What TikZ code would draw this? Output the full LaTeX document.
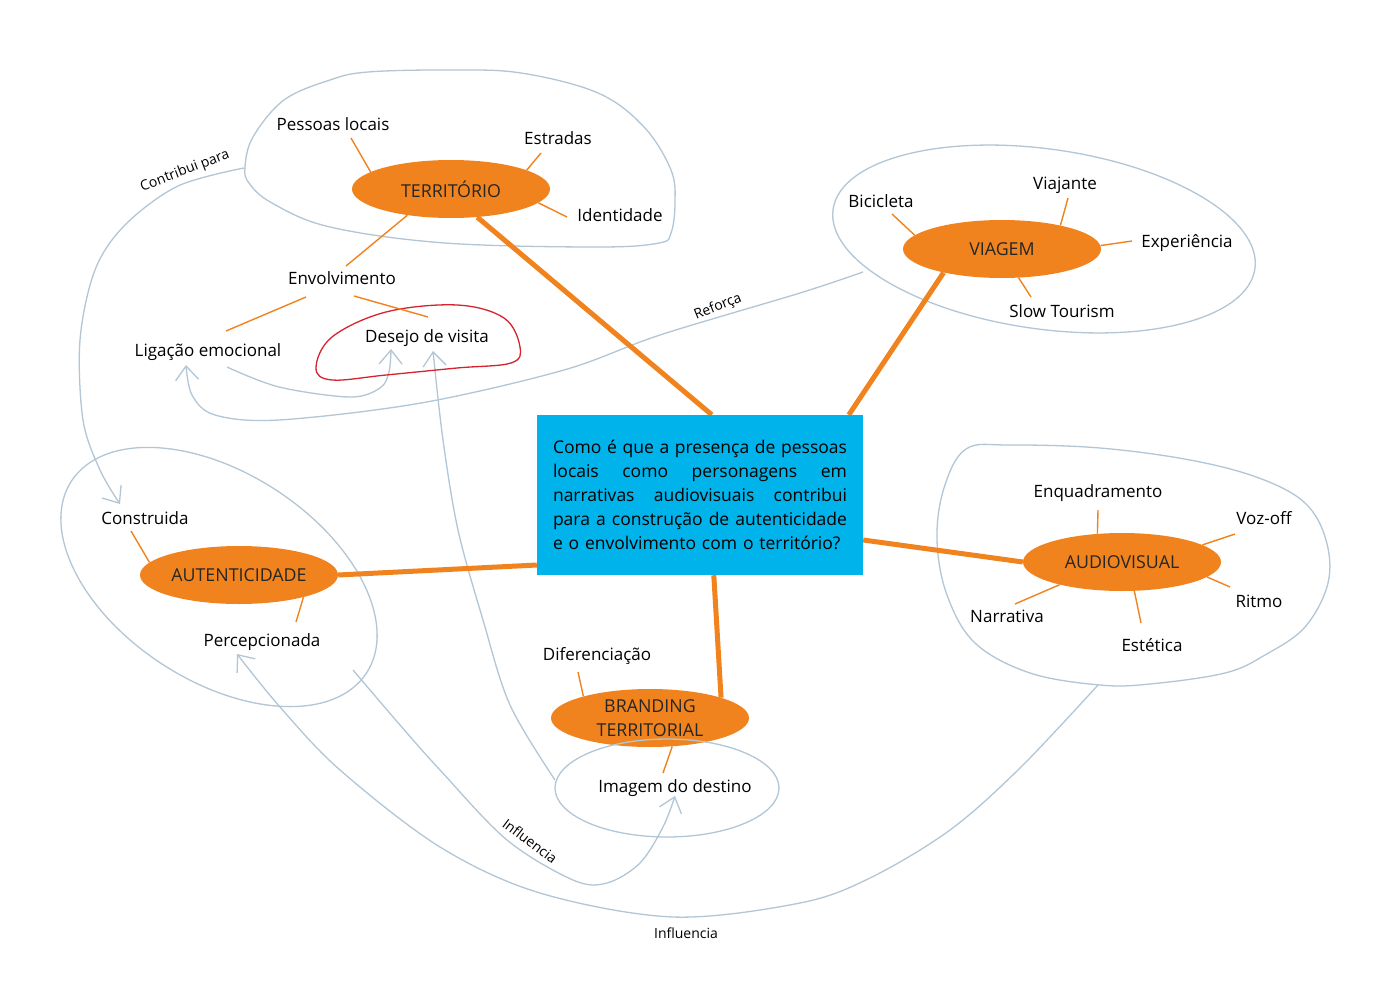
\documentclass[tikz,border=0pt]{standalone}
\usepackage{fontspec}
\setmainfont{Open Sans}
\usetikzlibrary{shapes.geometric,arrows.meta,backgrounds}
\definecolor{org}{RGB}{240,131,30}
\definecolor{bluegray}{RGB}{178,198,214}
\definecolor{cyanbox}{RGB}{0,179,234}
\definecolor{redline}{RGB}{214,35,45}
\newcommand{\jline}[1]{\makebox[294pt][s]{\spaceskip=.25em plus 1fil\relax #1}}
\begin{document}
\begin{tikzpicture}[x=1pt,y=-1pt,
  lbl/.style={font=\fontsize{17}{20}\selectfont, inner sep=1pt, text height=12pt, text depth=0pt},
  hub/.style={ellipse, fill=org, minimum width=198pt, minimum height=58pt, inner sep=0pt},
  hubtext/.style={font=\fontsize{17.8}{24}\selectfont, align=center, text=black!85},
  spoke/.style={draw=org, line width=1.4pt},
  trunk/.style={draw=org, line width=5pt},
  link/.style={draw=bluegray, line width=1.3pt},
  arr/.style={-{Straight Barb[length=14pt,width=23pt]}},
  small/.style={font=\fontsize{14}{16}\selectfont, inner sep=1pt},
]
\useasboundingbox (0,0) rectangle (1400,990);

% central question
\node[fill=cyanbox, minimum width=326pt, minimum height=160pt, text width=294pt, inner xsep=16pt, inner ysep=0pt, align=left, font=\fontsize{17.5}{24}\selectfont] (box) at (700,495)
 {\jline{Como é que a presença de pessoas}\\
  \jline{locais como personagens em}\\
  \jline{narrativas audiovisuais contribui}\\
  \jline{para a construção de autenticidade}\\
  e o envolvimento com o território?};

% hubs
\node[hub, label={[hubtext]center:TERRITÓRIO}] (terr) at (451,189) {};
\node[hub, label={[hubtext]center:VIAGEM}] (viag) at (1002,249) {};
\node[hub, label={[hubtext]center:AUTENTICIDADE}] (aut) at (239,575) {};
\node[hub, label={[hubtext]center:AUDIOVISUAL}] (av) at (1122,562) {};
\node[hub, label={[hubtext]center:BRANDING\\TERRITORIAL}] (br) at (650,718) {};

% labels
\node[lbl] (pl) at (333,124) {Pessoas locais};
\node[lbl] (es) at (558,138) {Estradas};
\node[lbl] (id) at (620,215) {Identidade};
\node[lbl] (env) at (342,278) {Envolvimento};
\node[lbl] (lig) at (208,350) {Ligação emocional};
\node[lbl] (des) at (427,336) {Desejo de visita};
\node[lbl] (bic) at (881,201) {Bicicleta};
\node[lbl] (via) at (1065,183) {Viajante};
\node[lbl] (exp) at (1187,241) {Experiência};
\node[lbl] (slow) at (1062,311) {Slow Tourism};
\node[lbl] (cons) at (145,518) {Construida};
\node[lbl] (perc) at (262,640) {Percepcionada};
\node[lbl] (enq) at (1098,491) {Enquadramento};
\node[lbl] (voz) at (1264,518) {Voz-off};
\node[lbl] (rit) at (1259,601) {Ritmo};
\node[lbl] (nar) at (1007,616) {Narrativa};
\node[lbl] (est) at (1152,645) {Estética};
\node[lbl] (dif) at (597,654) {Diferenciação};
\node[lbl] (img) at (675,786) {Imagem do destino};

% curve labels
\node[small, rotate=21] (lc) at (185,171) {Contribui para};
\node[small, rotate=22] (lr) at (718,307) {Reforça};
\node[small, rotate=-37] (li1) at (530,841) {Influencia};
\node[small] (li2) at (686,933) {Influencia};

% curve end points
\coordinate (tL) at (244,168);
\coordinate (aCons) at (120,504);
\coordinate (vL) at (863,272);
\coordinate (aLig) at (186,365);
\coordinate (ligS) at (227,367);
\coordinate (aDes1) at (391,349);
\coordinate (imgL) at (555,780);
\coordinate (aDes2) at (433,351);
\coordinate (autR) at (353,670);
\coordinate (aImg) at (675,796);
\coordinate (avB) at (1098,685);
\coordinate (aPerc) at (237,654);

\begin{scope}[on background layer]
\fill[white] (0,0) rectangle (1400,990);
% blobs
\draw[link] plot[smooth cycle, tension=0.6] coordinates {(245,167) (253,137) (284,100) (330,80) (368,72) (450,70) (521,73) (598,93) (644,127) (671,170) (675,203) (671,233) (659,243) (598,247) (445,243) (330,227) (272,203) (249,183)};
\draw[link, rotate around={-8:(1044,239)}] (1044,239) ellipse [x radius=213, y radius=90];
\draw[link, rotate around={-33:(219,577)}] (219,577) ellipse [x radius=176, y radius=104];
\draw[link] plot[smooth cycle, tension=0.6] coordinates {(966,449) (1010,445) (1100,448) (1190,460) (1259,478) (1305,503) (1326,540) (1328,583) (1305,627) (1265,655) (1225,673) (1150,684) (1100,685) (1030,673) (975,643) (947,595) (937,540) (944,488)};
% connectors
\draw[link, arr] plot[smooth, tension=0.55] coordinates {(tL) (178,186) (125,225) (95,270) (80,340) (83,420) (100,470) (aCons)};
\draw[link, arr] plot[smooth, tension=0.55] coordinates {(vL) (800,293) (660,335) (564,370) (421,403) (279,420) (215,415) (192,395) (aLig)};
\draw[link, arr] plot[smooth, tension=0.55] coordinates {(ligS) (279,387) (350,397) (380,388) (389,372) (aDes1)};
\draw[link, arr] plot[smooth, tension=0.55] coordinates {(imgL) (510,705) (483,620) (458,530) (443,440) (aDes2)};
\draw[link, arr] plot[smooth, tension=0.55] coordinates {(autR) (400,725) (440,770) (507,840) (573,880) (607,883) (640,863) (663,827) (aImg)};
\draw[link, arr] plot[smooth, tension=0.55] coordinates {(avB) (1020,768) (950,830) (870,878) (800,903) (673,917) (540,893) (440,847) (340,770) (280,707) (aPerc)};
% trunks
\draw[trunk] (terr.-47) -- ([xshift=175pt]box.north west);
\draw[trunk] (viag.202) -- ([xshift=312pt]box.north west);
\draw[trunk] (aut.east) -- ([yshift=-70pt]box.west);
\draw[trunk] (av.west) -- ([yshift=-45pt]box.east);
\draw[trunk] (br.16) -- ([xshift=177pt]box.south west);
\end{scope}

% image ellipse over branding
\draw[link] (667,788) ellipse [x radius=112, y radius=49];
% red blob
\draw[redline, line width=1.3pt] plot[smooth cycle, tension=0.6] coordinates {(316,368) (332,337) (386,312) (457,305) (504,318) (520,347) (511,363) (457,368) (386,375) (332,380)};

% spokes
\draw[spoke] ([shift={(18,14)}]pl.center) -- (terr.168);
\draw[spoke] ([shift={(-17,15)}]es.center) -- (terr.14);
\draw[spoke] ([shift={(-53,2)}]id.center) -- (terr.-9);
\draw[spoke] ([shift={(4,-12)}]env.center) -- (terr.211);
\draw[spoke] ([shift={(-36,19)}]env.center) -- ([shift={(18,-19)}]lig.center);
\draw[spoke] ([shift={(12,18)}]env.center) -- ([shift={(1,-19)}]des.center);
\draw[spoke] ([shift={(11,13)}]bic.center) -- (viag.171);
\draw[spoke] ([shift={(3,15)}]via.center) -- (viag.22);
\draw[spoke] ([shift={(-55,0)}]exp.center) -- (viag.2);
\draw[spoke] ([shift={(-31,-14)}]slow.center) -- (viag.-60);
\draw[spoke] ([shift={(-14,13)}]cons.center) -- (aut.172);
\draw[spoke] ([shift={(34,-18)}]perc.center) -- (aut.-19);
\draw[spoke] ([shift={(0,19)}]enq.center) -- (av.131);
\draw[spoke] ([shift={(-29,16)}]voz.center) -- (av.12);
\draw[spoke] ([shift={(-29,-14)}]rit.center) -- (av.-10);
\draw[spoke] ([shift={(8,-12)}]nar.center) -- (av.200);
\draw[spoke] ([shift={(-11,-22)}]est.center) -- (av.-67);
\draw[spoke] ([shift={(-19,18)}]dif.center) -- (br.162);
\draw[spoke] ([shift={(-12,-13)}]img.center) -- (br.-52);
\end{tikzpicture}
\end{document}
